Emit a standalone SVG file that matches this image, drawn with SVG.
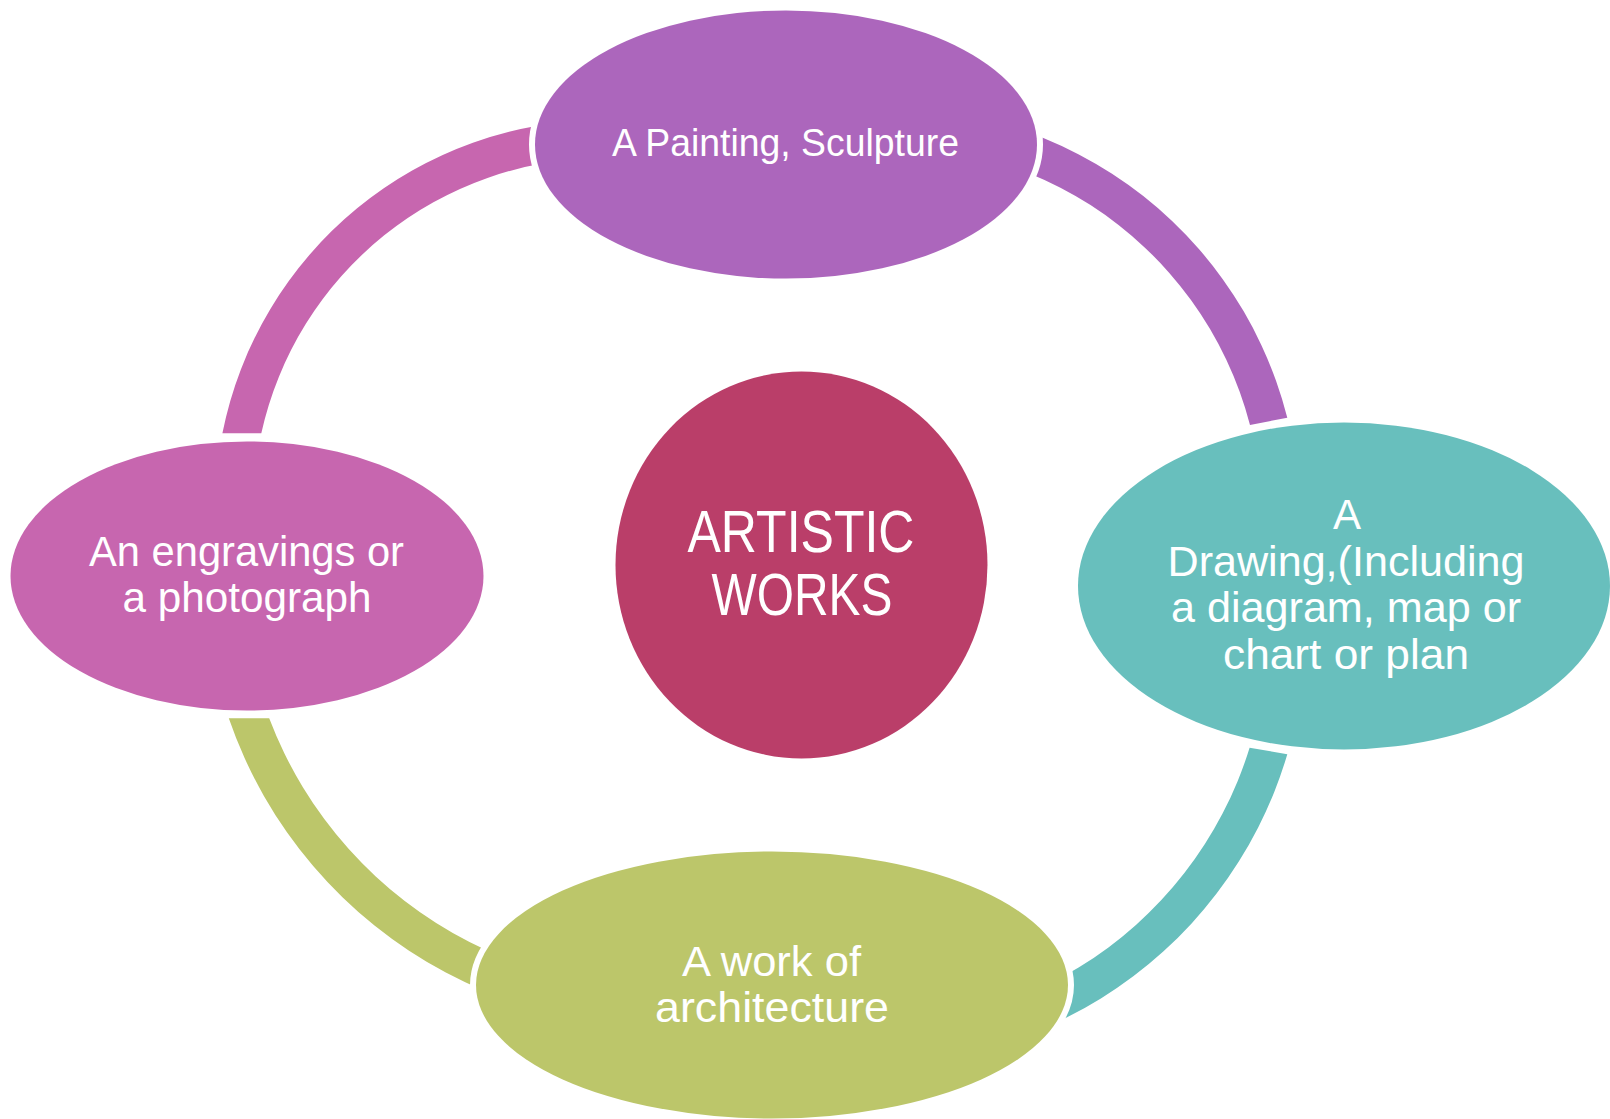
<svg xmlns="http://www.w3.org/2000/svg" width="1610" height="1119" viewBox="0 0 1610 1119">
<style>
.node{stroke:#FFFFFF;stroke-width:12;paint-order:stroke}
.lbl{font-family:"Liberation Sans",Arial,sans-serif;fill:#FFFFFF;text-anchor:middle}
.n42{font-size:42px}
.n39{font-size:39px}
.n59{font-size:59px}
</style>
<rect width="1610" height="1119" fill="#FFFFFF"/>
<g id="connectors">
<path d="M222.4,433.3 A389,389 0 0 1 604,120 L604,158 A351,351 0 0 0 261.3,433.3 Z" fill="#C766AF"/>
<path d="M817.6,114.2 A411,411 0 0 1 1287.3,417.7 L1250,425 A373,373 0 0 0 824.2,151.7 Z" fill="#AC66BC"/>
<path d="M1287.3,754.3 A431,431 0 0 1 799.2,1056.5 L805.8,1019 A393,393 0 0 0 1249.6,747.7 Z" fill="#68BFBD"/>
<path d="M778,1010.5 A456,456 0 0 1 228.8,718.3 L269.2,718.3 A418,418 0 0 0 768.2,973.8 Z" fill="#BCC66A"/>
</g>
<g id="node-center">
<ellipse cx="801.5" cy="565" rx="186" ry="193.5" fill="#BA3E69"/>
<text class="lbl n59" x="801" y="551.5" textLength="227" lengthAdjust="spacingAndGlyphs">ARTISTIC</text>
<text class="lbl n59" x="802" y="615" textLength="181" lengthAdjust="spacingAndGlyphs">WORKS</text>
</g>
<g id="node-top">
<ellipse class="node" cx="786" cy="144.5" rx="251" ry="134" fill="#AC66BC"/>
<text class="lbl n39" x="785.5" y="156" textLength="347" lengthAdjust="spacingAndGlyphs">A Painting, Sculpture</text>
</g>
<g id="node-right">
<ellipse class="node" cx="1344" cy="586" rx="266" ry="163.5" fill="#68BFBD"/>
<text class="lbl n42" x="1347" y="529">A</text>
<text class="lbl n42" x="1346" y="575.5" textLength="357" lengthAdjust="spacingAndGlyphs">Drawing,(Including</text>
<text class="lbl n42" x="1346" y="622" textLength="350" lengthAdjust="spacingAndGlyphs">a diagram, map or</text>
<text class="lbl n42" x="1346" y="668.5" textLength="246" lengthAdjust="spacingAndGlyphs">chart or plan</text>
</g>
<g id="node-bottom">
<ellipse class="node" cx="772" cy="985" rx="296" ry="133.5" fill="#BCC66A"/>
<text class="lbl n42" x="771.5" y="976" textLength="179" lengthAdjust="spacingAndGlyphs">A work of</text>
<text class="lbl n42" x="772" y="1021.5" textLength="234" lengthAdjust="spacingAndGlyphs">architecture</text>
</g>
<g id="node-left">
<ellipse class="node" cx="247" cy="576" rx="236.5" ry="134.5" fill="#C766AF"/>
<text class="lbl n42" x="246.5" y="565.5" textLength="315" lengthAdjust="spacingAndGlyphs">An engravings or</text>
<text class="lbl n42" x="247" y="611.5" textLength="249" lengthAdjust="spacingAndGlyphs">a photograph</text>
</g>
</svg>
